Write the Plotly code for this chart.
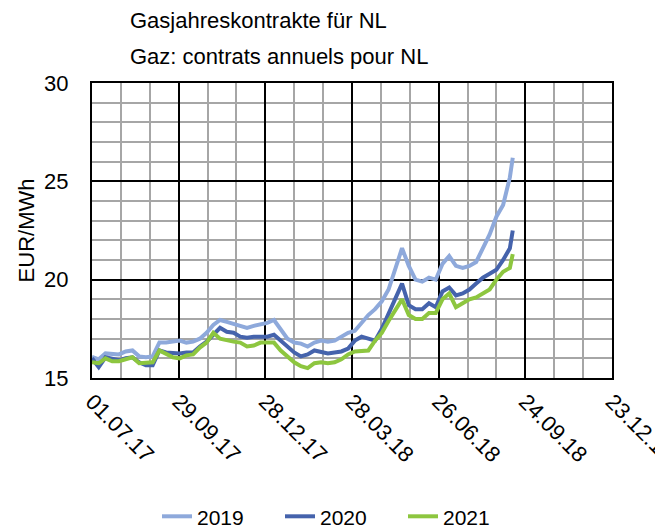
import plotly.graph_objects as go

# weekly readings of the three year-ahead contracts
dates = [
    '2017-07-01', '2017-07-08', '2017-07-15', '2017-07-22', '2017-07-29', '2017-08-05', '2017-08-12',
    '2017-08-19', '2017-08-26', '2017-09-02', '2017-09-09', '2017-09-16', '2017-09-23', '2017-09-30',
    '2017-10-07', '2017-10-14', '2017-10-21', '2017-10-28', '2017-11-04', '2017-11-11', '2017-11-18',
    '2017-11-25', '2017-12-02', '2017-12-09', '2017-12-16', '2017-12-23', '2017-12-30', '2018-01-06',
    '2018-01-13', '2018-01-20', '2018-01-27', '2018-02-03', '2018-02-10', '2018-02-17', '2018-02-24',
    '2018-03-03', '2018-03-10', '2018-03-17', '2018-03-24', '2018-03-31', '2018-04-07', '2018-04-14',
    '2018-04-21', '2018-04-28', '2018-05-05', '2018-05-12', '2018-05-19', '2018-05-26', '2018-06-02',
    '2018-06-09', '2018-06-16', '2018-06-23', '2018-06-30', '2018-07-07', '2018-07-14', '2018-07-21',
    '2018-07-28', '2018-08-04', '2018-08-11', '2018-08-18', '2018-08-25', '2018-09-01', '2018-09-08',
    '2018-09-11',
]

y2019 = [
    16.07, 15.95, 16.25, 16.2, 16.2, 16.35, 16.4, 16.1, 16.05, 16.1, 16.8, 16.8, 16.85, 16.9,
    16.8, 16.85, 17.0, 17.3, 17.7, 17.95, 17.85, 17.75, 17.6, 17.55, 17.65, 17.7, 17.8, 17.95,
    17.5, 17.0, 16.8, 16.75, 16.6, 16.8, 16.9, 16.85, 16.9, 17.1, 17.3, 17.4, 17.8, 18.2,
    18.5, 18.9, 19.5, 20.5, 21.6, 20.7, 20.0, 19.9, 20.1, 20.0, 20.8, 21.2, 20.7, 20.6,
    20.7, 20.9, 21.6, 22.3, 23.2, 23.8, 25.2, 26.2,
]

y2020 = [
    16.0, 15.55, 16.05, 15.95, 15.9, 16.0, 16.05, 15.8, 15.65, 15.65, 16.4, 16.3, 16.25, 16.25,
    16.3, 16.3, 16.6, 16.85, 17.2, 17.55, 17.35, 17.3, 17.1, 17.05, 17.1, 17.1, 17.1, 17.2,
    16.9, 16.6, 16.3, 16.1, 16.2, 16.4, 16.3, 16.25, 16.3, 16.35, 16.5, 16.9, 17.1, 17.0,
    16.9, 17.5, 18.3, 19.0, 19.8, 18.7, 18.5, 18.5, 18.8, 18.6, 19.4, 19.6, 19.2, 19.3,
    19.5, 19.8, 20.1, 20.3, 20.5, 21.0, 21.6, 22.5,
]

y2021 = [
    15.8, 15.75, 16.0, 15.85, 15.85, 15.95, 16.05, 15.75, 15.75, 15.8, 16.4, 16.2, 16.05, 16.0,
    16.15, 16.2, 16.55, 16.8, 17.3, 17.0, 16.9, 16.85, 16.8, 16.6, 16.65, 16.8, 16.8, 16.8,
    16.4, 16.1, 15.8, 15.6, 15.5, 15.75, 15.8, 15.75, 15.8, 15.95, 16.2, 16.35, 16.4, 16.4,
    16.9, 17.3, 17.9, 18.5, 19.0, 18.2, 18.0, 18.0, 18.3, 18.3, 19.0, 19.3, 18.6, 18.8,
    19.0, 19.1, 19.3, 19.5, 20.0, 20.4, 20.6, 21.3,
]

series = [('2019', y2019, '#8EA9DB'), ('2020', y2020, '#4563AC'), ('2021', y2021, '#8DC63F')]

FONT = 'Liberation Sans, Arial, sans-serif'
DAY = 86400000

fig = go.Figure()
for name, vals, col in series:
    fig.add_trace(go.Scatter(x=dates, y=vals, mode='lines', name=name,
                             line=dict(color=col, width=4)))

# page body adds an 8px offset, so the figure is 655x521
fig.update_layout(
    width=655, height=521,
    margin=dict(l=84, r=51, t=75, b=151, autoexpand=False),
    plot_bgcolor='white', paper_bgcolor='white',
    font=dict(family=FONT, size=22, color='black'),
    showlegend=True,
    legend=dict(orientation='h', x=0.125, xanchor='left', y=-0.47, yanchor='middle',
                font=dict(size=21), entrywidth=78, entrywidthmode='pixels',
                tracegroupgap=0),
)

fig.update_xaxes(
    type='date', range=['2017-07-01', '2018-12-23 02:00'],
    tick0='2017-07-01', dtick=90 * DAY, tickformat='%d.%m.%y', tickangle=45,
    ticklabeloverflow='allow',
    showgrid=True, gridcolor='black', gridwidth=2,
    showline=True, linecolor='black', linewidth=2, mirror=True,
    ticks='', zeroline=False, automargin=False,
    minor=dict(tick0='2017-07-01', dtick=30 * DAY, showgrid=True, gridcolor='#A6A6A6', gridwidth=2),
)

fig.update_yaxes(
    range=[15, 30], tick0=15, dtick=5,
    showgrid=True, gridcolor='black', gridwidth=2,
    showline=True, linecolor='black', linewidth=2, mirror=True,
    ticks='', zeroline=False, ticklabelstandoff=17, automargin=False,
    title=dict(text='EUR/MWh', font=dict(size=22), standoff=3),
    minor=dict(dtick=1, showgrid=True, gridcolor='#A6A6A6', gridwidth=2),
)

fig.add_annotation(text='Gasjahreskontrakte für NL', xref='paper', yref='paper',
                   x=(128 - 92) / 520, y=(378 - 20) / 295, xanchor='left', yanchor='middle',
                   showarrow=False, font=dict(size=22))
fig.add_annotation(text='Gaz: contrats annuels pour NL', xref='paper', yref='paper',
                   x=(128 - 92) / 520, y=(378 - 56) / 295, xanchor='left', yanchor='middle',
                   showarrow=False, font=dict(size=22))

fig.write_html('out.html')
